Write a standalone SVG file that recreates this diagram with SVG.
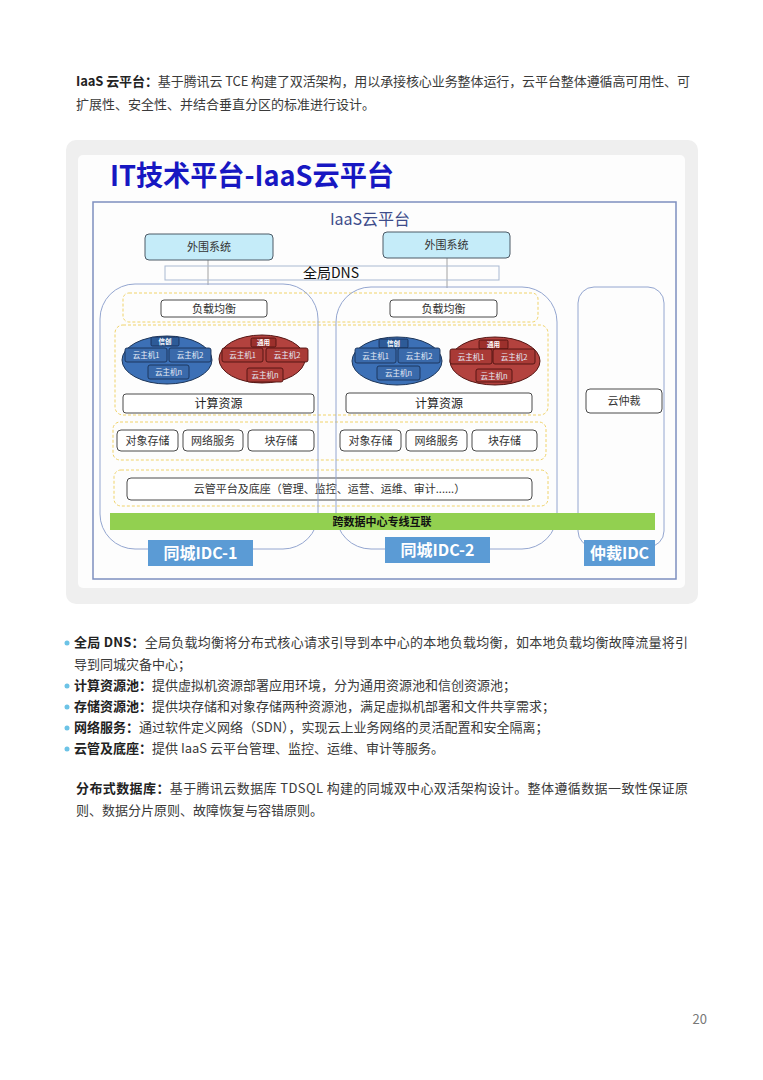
<svg xmlns="http://www.w3.org/2000/svg" width="763" height="1080" viewBox="0 0 763 1080">
<style>
text{font-family:"Noto Sans CJK SC","Liberation Sans",sans-serif}
.body{font-size:13px;fill:#3a3a3a}
.b{font-weight:bold;fill:#222}
.box{fill:#fff;stroke:#4a4a4a;stroke-width:1}
.band{fill:none;stroke:#f0d36a;stroke-width:1;stroke-dasharray:3 2}
.idc{fill:none;stroke:#94a6d0;stroke-width:1}
.lbl{fill:#5b9bd5}
.lt{font-size:16px;font-weight:bold;fill:#fff;text-anchor:middle}
.bt{font-size:11px;fill:#333;text-anchor:middle}
.ct{font-size:12px;fill:#222;text-anchor:middle}
.ext{fill:#c5ecf9;stroke:#4d5a66;stroke-width:1}
.eB{fill:#3c70b6;stroke:#1d3558;stroke-width:1}
.eR{fill:#b3423e;stroke:#551614;stroke-width:1}
.vB{fill:#3a6aab;stroke:#1a3157;stroke-width:0.9}
.vR{fill:#a93a36;stroke:#4e1210;stroke-width:0.9}
.vt{font-size:7.5px;fill:#e6ecf6;text-anchor:middle}
.tagB{fill:#2d5b98;stroke:#162c50;stroke-width:0.8}
.tagR{fill:#9c302c;stroke:#4a100e;stroke-width:0.8}
.tt{font-size:6.5px;font-weight:bold;fill:#fff;text-anchor:middle}
.conn{stroke:#8a8a8a;stroke-width:0.8;fill:none}
.dot{fill:#6cc3e6}
</style>
<rect x="0" y="0" width="763" height="1080" fill="#fff"/>

<g id="intro">
<text class="body" x="76" y="86" textLength="614" lengthAdjust="spacing"><tspan class="b">IaaS 云平台：</tspan>基于腾讯云 TCE 构建了双活架构，用以承接核心业务整体运行，云平台整体遵循高可用性、可</text>
<text class="body" x="76" y="109">扩展性、安全性、并结合垂直分区的标准进行设计。</text>
</g>

<g id="panel">
<rect x="66" y="140" width="632" height="464" rx="10" fill="#efefef"/>
<rect x="78" y="155" width="607" height="433" rx="5" fill="#fdfdfd"/>
<text x="110" y="186" font-size="28" font-weight="bold" fill="#1717c2" textLength="284" lengthAdjust="spacingAndGlyphs">IT技术平台-IaaS云平台</text>
<rect x="93" y="202" width="583" height="377" fill="none" stroke="#7d8fbf" stroke-width="1.5"/>
<text x="370" y="225" font-size="16" fill="#3d4c8a" text-anchor="middle">IaaS云平台</text>
</g>

<g id="connectors">
<line class="conn" x1="208" y1="260" x2="208" y2="285"/>
<line class="conn" x1="447" y1="258" x2="447" y2="288"/>
</g>

<g id="ext1"><rect class="ext" x="145" y="234" width="128" height="26" rx="4"/><text class="bt" x="209" y="251">外围系统</text></g>
<g id="ext2"><rect class="ext" x="383" y="232" width="127" height="26" rx="4"/><text class="bt" x="446.5" y="249">外围系统</text></g>

<g id="dns">
<rect x="165" y="266" width="334" height="14" fill="none" stroke="#a9b9d2" stroke-width="1"/>
<text x="331" y="278" font-size="14" fill="#111" text-anchor="middle">全局DNS</text>
</g>

<g id="bands">
<rect class="band" x="123" y="293" width="415" height="29" rx="6"/>
<rect class="band" x="115" y="325" width="433" height="90" rx="8"/>
<rect class="band" x="113" y="422" width="433" height="38" rx="7"/>
<rect class="band" x="114" y="470" width="434" height="36" rx="7"/>
</g>

<g id="lb1"><rect class="box" x="161" y="300" width="106" height="17" rx="3"/><text class="bt" x="214" y="312.5">负载均衡</text></g>
<g id="lb2"><rect class="box" x="390" y="300" width="107" height="17" rx="3"/><text class="bt" x="443.5" y="312.5">负载均衡</text></g>

<g id="pool1-xc">
<ellipse class="eB" cx="167" cy="360" rx="45" ry="24"/>
<rect class="tagB" x="151" y="337" width="28" height="9" rx="1.5"/><text class="tt" x="165" y="344">信创</text>
<rect class="vB" x="125" y="348" width="42" height="14" rx="2"/><text class="vt" x="146" y="358">云主机1</text>
<rect class="vB" x="169" y="348" width="42" height="14" rx="2"/><text class="vt" x="190" y="358">云主机2</text>
<rect class="vB" x="148" y="365" width="41" height="14" rx="2"/><text class="vt" x="168.5" y="375">云主机n</text>
</g>
<g id="pool1-ty">
<ellipse class="eR" cx="262" cy="359" rx="43" ry="24"/>
<rect class="tagR" x="251" y="338" width="25" height="9" rx="1.5"/><text class="tt" x="263.5" y="345">通用</text>
<rect class="vR" x="222" y="348" width="41" height="14" rx="2"/><text class="vt" x="242.5" y="358">云主机1</text>
<rect class="vR" x="266" y="348" width="42" height="14" rx="2"/><text class="vt" x="287" y="358">云主机2</text>
<rect class="vR" x="247" y="368" width="36" height="14" rx="2"/><text class="vt" x="265" y="378">云主机n</text>
</g>
<g id="pool2-xc">
<ellipse class="eB" cx="397" cy="361" rx="45" ry="24"/>
<rect class="tagB" x="379" y="339" width="29" height="9" rx="1.5"/><text class="tt" x="393.5" y="346">信创</text>
<rect class="vB" x="355" y="348" width="41" height="15" rx="2"/><text class="vt" x="375.5" y="358.5">云主机1</text>
<rect class="vB" x="398" y="348" width="42" height="15" rx="2"/><text class="vt" x="419" y="358.5">云主机2</text>
<rect class="vB" x="377" y="366" width="43" height="14" rx="2"/><text class="vt" x="398.5" y="376">云主机n</text>
</g>
<g id="pool2-ty">
<ellipse class="eR" cx="495" cy="361" rx="45" ry="24"/>
<rect class="tagR" x="479" y="340" width="29" height="9" rx="1.5"/><text class="tt" x="493.5" y="347">通用</text>
<rect class="vR" x="450" y="349" width="42" height="15" rx="2"/><text class="vt" x="471" y="359.5">云主机1</text>
<rect class="vR" x="493" y="349" width="42" height="15" rx="2"/><text class="vt" x="514" y="359.5">云主机2</text>
<rect class="vR" x="476" y="369" width="36" height="13" rx="2"/><text class="vt" x="494" y="378.5">云主机n</text>
</g>

<g id="cpu1"><rect class="box" x="123" y="394" width="191" height="19" rx="3"/><text class="ct" x="218.5" y="408">计算资源</text></g>
<g id="cpu2"><rect class="box" x="346" y="393" width="186" height="20" rx="3"/><text class="ct" x="439" y="407.5">计算资源</text></g>

<g id="obj1"><rect class="box" x="117" y="430" width="61" height="21" rx="4"/><text class="bt" x="147.5" y="444.5">对象存储</text></g>
<g id="net1"><rect class="box" x="183" y="430" width="60" height="21" rx="4"/><text class="bt" x="213" y="444.5">网络服务</text></g>
<g id="blk1"><rect class="box" x="248" y="430" width="66" height="21" rx="4"/><text class="bt" x="281" y="444.5">块存储</text></g>
<g id="obj2"><rect class="box" x="340" y="430" width="61" height="21" rx="4"/><text class="bt" x="370.5" y="444.5">对象存储</text></g>
<g id="net2"><rect class="box" x="406" y="430" width="61" height="21" rx="4"/><text class="bt" x="436.5" y="444.5">网络服务</text></g>
<g id="blk2"><rect class="box" x="472" y="430" width="65" height="21" rx="4"/><text class="bt" x="504.5" y="444.5">块存储</text></g>

<g id="mgmt"><rect class="box" x="127" y="478" width="405" height="22" rx="4"/><text class="bt" x="329.5" y="493">云管平台及底座（管理、监控、运营、运维、审计......）</text></g>

<g id="arb"><rect class="box" x="586" y="389" width="76" height="24" rx="4"/><text class="bt" x="624" y="405">云仲裁</text></g>

<g id="containers">
<rect class="idc" x="100" y="284" width="218" height="265" rx="35"/>
<rect class="idc" x="336" y="287" width="221" height="262" rx="35"/>
<rect class="idc" x="578" y="287" width="86" height="260" rx="16"/>
</g>

<g id="link">
<rect x="110" y="513" width="545" height="17" fill="#92d050"/>
<text x="382" y="526" font-size="11" font-weight="bold" fill="#111" text-anchor="middle">跨数据中心专线互联</text>
</g>

<g id="idc1-label"><rect class="lbl" x="148" y="540" width="105" height="26"/><text class="lt" x="200.5" y="559">同城IDC-1</text></g>
<g id="idc2-label"><rect class="lbl" x="385" y="537" width="105" height="26"/><text class="lt" x="437.5" y="556">同城IDC-2</text></g>
<g id="arb-label"><rect class="lbl" x="584" y="540" width="71" height="26"/><text class="lt" x="619.5" y="559" font-size="15">仲裁IDC</text></g>

<g id="bullets">
<circle class="dot" cx="67" cy="643" r="2.5"/>
<text class="body" x="74" y="647" textLength="614" lengthAdjust="spacing"><tspan class="b">全局 DNS：</tspan>全局负载均衡将分布式核心请求引导到本中心的本地负载均衡，如本地负载均衡故障流量将引</text>
<text class="body" x="74" y="669">导到同城灾备中心；</text>
<circle class="dot" cx="67" cy="686" r="2.5"/>
<text class="body" x="74" y="690"><tspan class="b">计算资源池：</tspan>提供虚拟机资源部署应用环境，分为通用资源池和信创资源池；</text>
<circle class="dot" cx="67" cy="707" r="2.5"/>
<text class="body" x="74" y="711"><tspan class="b">存储资源池：</tspan>提供块存储和对象存储两种资源池，满足虚拟机部署和文件共享需求；</text>
<circle class="dot" cx="67" cy="728" r="2.5"/>
<text class="body" x="74" y="732"><tspan class="b">网络服务：</tspan>通过软件定义网络（SDN），实现云上业务网络的灵活配置和安全隔离；</text>
<circle class="dot" cx="67" cy="749" r="2.5"/>
<text class="body" x="74" y="753"><tspan class="b">云管及底座：</tspan>提供 IaaS 云平台管理、监控、运维、审计等服务。</text>
</g>

<g id="db">
<text class="body" x="76" y="793" textLength="612" lengthAdjust="spacing"><tspan class="b">分布式数据库：</tspan>基于腾讯云数据库 TDSQL 构建的同城双中心双活架构设计。整体遵循数据一致性保证原</text>
<text class="body" x="76" y="815">则、数据分片原则、故障恢复与容错原则。</text>
</g>

<text x="707" y="1024" font-size="13" fill="#777" text-anchor="end">20</text>
</svg>
